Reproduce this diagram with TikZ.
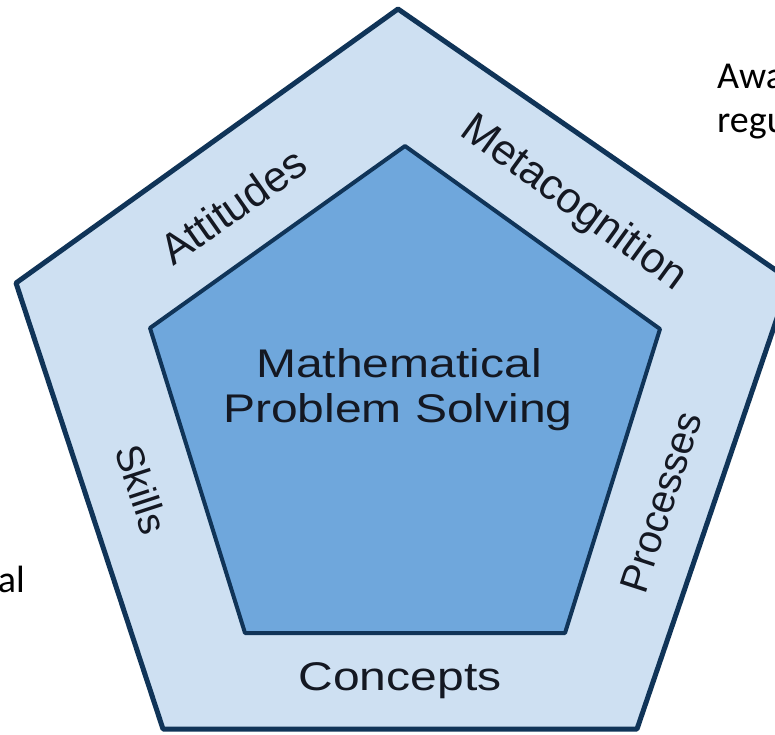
\documentclass[tikz,border=0pt]{standalone}
\usepackage{graphicx}
\usepackage{fontspec}
\setmainfont{Liberation Sans}
\newfontfamily\sidefont{Carlito}

\definecolor{edgeblue}{RGB}{16,52,88}
\definecolor{bandblue}{RGB}{206,224,242}
\definecolor{coreblue}{RGB}{111,167,220}
\definecolor{inktext}{RGB}{20,24,34}

\tikzset{
  bandlabel/.style={font=\fontsize{40}{48}\selectfont, text=inktext, inner sep=0pt},
  sidetext/.style={font=\sidefont\fontsize{38}{46}\selectfont, text=black, inner sep=0pt},
}

\begin{document}
\begin{tikzpicture}[x=1pt,y=-1pt]

  \useasboundingbox (0,0) rectangle (775,734);
  \clip (0,0) rectangle (775,734);
  \fill[white] (0,0) rectangle (775,734);

  % outer pentagon
  \filldraw[fill=bandblue, draw=edgeblue, line width=5pt, line join=round]
    (398,9)--(790,280)--(637,729)--(163,729)--(16,283)--cycle;
  % inner pentagon
  \filldraw[fill=coreblue, draw=edgeblue, line width=4pt, line join=round]
    (405,146)--(660,329)--(565,633)--(245,633)--(150,328)--cycle;

    \node[bandlabel, anchor=base] at (399,377) (mps1) {\scalebox{1.2}[1]{Mathematical}};
    \node[bandlabel, anchor=base] at (398,422) (mps2) {\scalebox{1.2}[1]{Problem Solving}};
    \node[bandlabel, anchor=base] at (400,690) (conc) {\scalebox{1.2}[1]{Concepts}};
    \node[bandlabel, font=\fontsize{43}{50}\selectfont, rotate=35] at (233,206) (atti) {Attitudes};
    \node[bandlabel, font=\fontsize{43}{50}\selectfont, rotate=-36] at (573,204) (meta) {Metacognition};
    \node[bandlabel, font=\fontsize{39}{46}\selectfont, rotate=-72] at (142,489) (skil) {Skills};
    \node[bandlabel, rotate=72] at (661,502) (proc) {Processes};

  % text cut at the edges
    \node[sidetext, anchor=base west] at (717,88) (awa) {Awa};
    \node[sidetext, anchor=base west] at (717,132) (regu) {regu};
    \node[sidetext, anchor=base east] at (25,592) (al) {al};
    \end{tikzpicture}
\end{document}
